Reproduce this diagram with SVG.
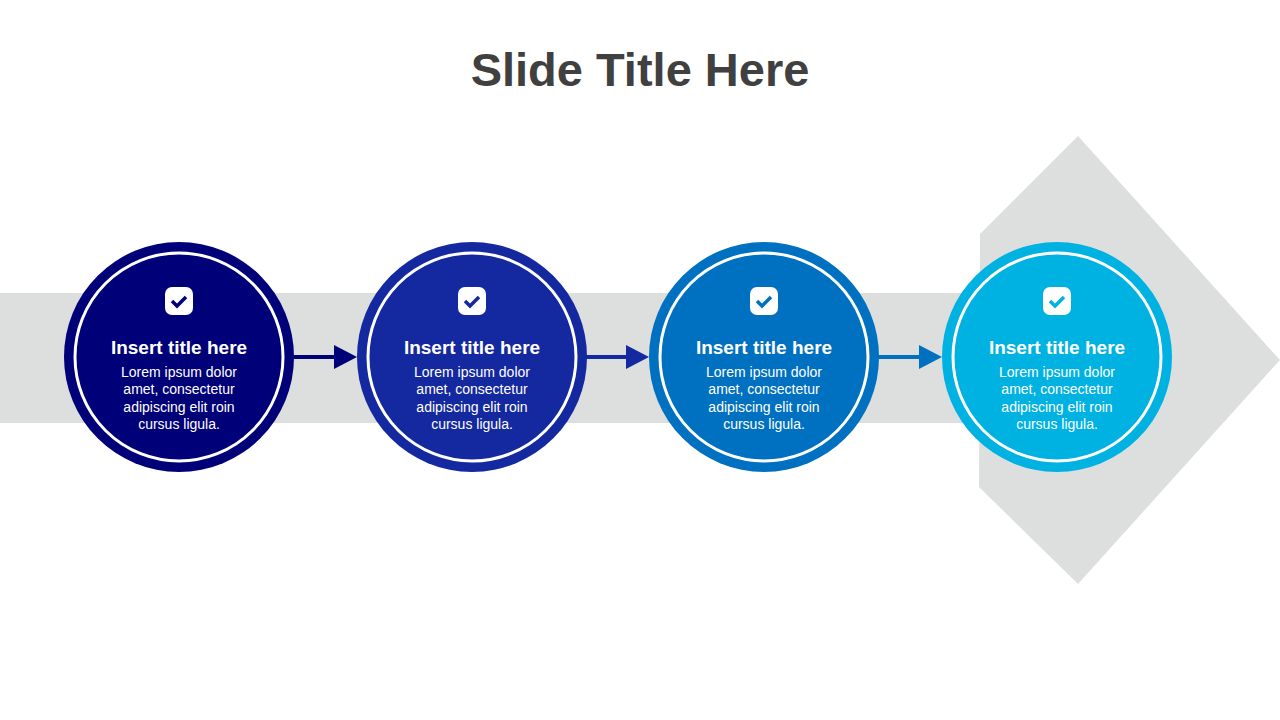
<svg xmlns="http://www.w3.org/2000/svg" width="1280" height="720" viewBox="0 0 1280 720">
<style>
.t{font-family:"Liberation Sans",Arial,sans-serif;font-weight:bold;font-size:19px;fill:#fff;text-anchor:middle}
.b{font-family:"Liberation Sans",Arial,sans-serif;font-size:14px;fill:#fff;text-anchor:middle}
.ring{fill:none;stroke:#fff;stroke-width:3}
</style>
<defs>
<marker id="ah" markerWidth="8" markerHeight="8" refX="7" refY="4" orient="auto" markerUnits="userSpaceOnUse"><path d="M0,0L8,4L0,8z" fill="context-stroke"/></marker>
</defs>
<rect width="1280" height="720" fill="#fff"/>
<text x="640" y="86" text-anchor="middle" font-family="'Liberation Sans',Arial,sans-serif" font-weight="bold" font-size="47" fill="#404040">Slide Title Here</text>
<g id="bg-arrow" fill="#DDDFDF">
<rect x="0" y="293" width="990" height="130"/>
<polygon points="980,234 1078,136 1280,360 1078,584 979,487"/>
</g>
<g id="connectors" stroke-width="4">
<line x1="293" y1="357" x2="336" y2="357" stroke="#000078"/><polygon points="334,345 357,357 334,369" fill="#000078"/>
<line x1="586" y1="357" x2="628" y2="357" stroke="#1428A0"/><polygon points="626,345 649,357 626,369" fill="#1428A0"/>
<line x1="878" y1="357" x2="921" y2="357" stroke="#0070C0"/><polygon points="919,345 942,357 919,369" fill="#0070C0"/>
</g>
<g id="n1" transform="translate(179,357)">
<circle r="115" fill="#000078"/><circle r="104" class="ring"/>
<rect x="-14" y="-70" width="28" height="28" rx="7" fill="#fff"/><path d="M-7,-56l5,5l9,-9" fill="none" stroke="#000078" stroke-width="3.5"/>
<text class="t" y="-3">Insert title here</text>
<text class="b" y="20">Lorem ipsum dolor</text><text class="b" y="37">amet, consectetur</text><text class="b" y="55">adipiscing  elit  roin</text><text class="b" y="72">cursus ligula.</text>
</g>
<g id="n2" transform="translate(472,357)">
<circle r="115" fill="#1428A0"/><circle r="104" class="ring"/>
<rect x="-14" y="-70" width="28" height="28" rx="7" fill="#fff"/><path d="M-7,-56l5,5l9,-9" fill="none" stroke="#1428A0" stroke-width="3.5"/>
<text class="t" y="-3">Insert title here</text>
<text class="b" y="20">Lorem ipsum dolor</text><text class="b" y="37">amet, consectetur</text><text class="b" y="55">adipiscing  elit  roin</text><text class="b" y="72">cursus ligula.</text>
</g>
<g id="n3" transform="translate(764,357)">
<circle r="115" fill="#0070C0"/><circle r="104" class="ring"/>
<rect x="-14" y="-70" width="28" height="28" rx="7" fill="#fff"/><path d="M-7,-56l5,5l9,-9" fill="none" stroke="#0070C0" stroke-width="3.5"/>
<text class="t" y="-3">Insert title here</text>
<text class="b" y="20">Lorem ipsum dolor</text><text class="b" y="37">amet, consectetur</text><text class="b" y="55">adipiscing  elit  roin</text><text class="b" y="72">cursus ligula.</text>
</g>
<g id="n4" transform="translate(1057,357)">
<circle r="115" fill="#00B2E2"/><circle r="104" class="ring"/>
<rect x="-14" y="-70" width="28" height="28" rx="7" fill="#fff"/><path d="M-7,-56l5,5l9,-9" fill="none" stroke="#00B2E2" stroke-width="3.5"/>
<text class="t" y="-3">Insert title here</text>
<text class="b" y="20">Lorem ipsum dolor</text><text class="b" y="37">amet, consectetur</text><text class="b" y="55">adipiscing  elit  roin</text><text class="b" y="72">cursus ligula.</text>
</g>
</svg>
